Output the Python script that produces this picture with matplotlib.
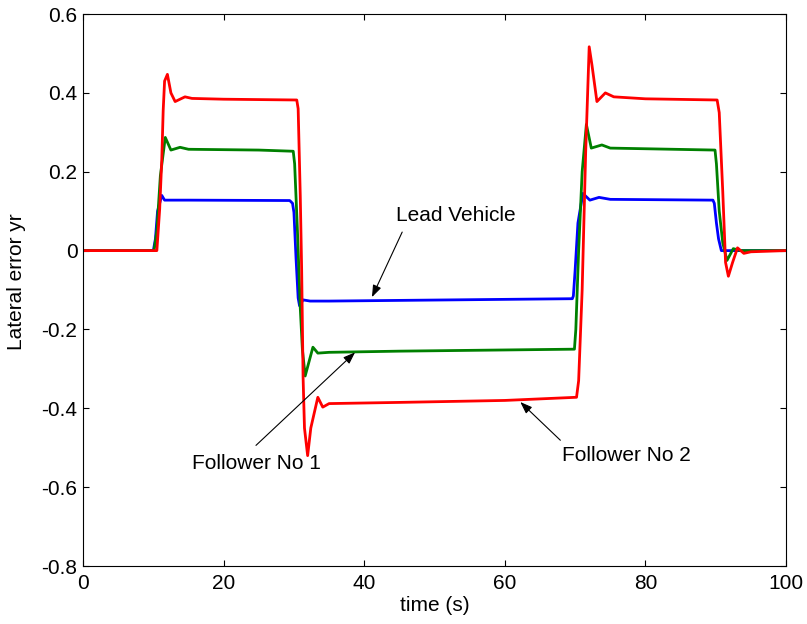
import matplotlib.pyplot as plt

plt.rcParams['font.family'] = ['Liberation Sans', 'DejaVu Sans']

# Lead vehicle (blue)
t_lead = [0, 10.0, 10.3, 10.6, 11.2, 11.6, 15, 29.4, 29.8, 30.0, 30.3, 30.6, 30.8, 31.3, 32.3, 35,
          69.6, 69.75, 70.0, 70.4, 71.1, 72.1, 73.4, 75, 89.6, 89.8, 90.1, 90.4, 90.8, 92, 100]
y_lead = [0, 0, 0.03, 0.10, 0.14, 0.128, 0.128, 0.127, 0.12, 0.097, -0.02, -0.12, -0.14, -0.125, -0.128, -0.128,
          -0.122, -0.115, -0.05, 0.07, 0.145, 0.128, 0.135, 0.13, 0.128, 0.12, 0.07, 0.03, 0.0, 0.0, 0.0]

# Follower No 1 (green)
t_f1 = [0, 10.1, 10.5, 11.0, 11.7, 12.5, 13.8, 15, 25, 29.9, 30.1, 30.5, 30.9, 31.2, 31.6, 32.7, 33.4, 35, 45,
        69.9, 70.1, 70.5, 71.0, 71.6, 72.3, 73.8, 75, 89.9, 90.1, 90.5, 91.0, 91.6, 92.5, 93.5, 100]
y_f1 = [0, 0, 0.05, 0.19, 0.287, 0.255, 0.262, 0.257, 0.255, 0.252, 0.22, 0.05, -0.145, -0.25, -0.318, -0.245, -0.26, -0.258, -0.255,
        -0.25, -0.2, 0.0, 0.2, 0.32, 0.26, 0.268, 0.26, 0.255, 0.22, 0.1, 0.02, -0.025, 0.005, 0.0, 0.0]

# Follower No 2 (red)
t_f2 = [0, 10.5, 10.9, 11.2, 11.4, 11.6, 12.0, 12.5, 13.1, 14.5, 15.5, 20, 30.4, 30.6, 30.9, 31.1, 31.3, 31.5, 31.95,
        32.4, 33.4, 34.1, 35, 45, 60, 70.2, 70.5, 71.0, 71.5, 72.0, 72.4, 73.1, 74.3, 75.5, 80,
        90.2, 90.5, 91.0, 91.4, 91.8, 92.4, 93.1, 94.0, 95, 100]
y_f2 = [0, 0, 0.105, 0.23, 0.355, 0.43, 0.447, 0.40, 0.378, 0.39, 0.386, 0.384, 0.382, 0.36, 0.14, -0.05, -0.32, -0.45, -0.52,
        -0.45, -0.372, -0.397, -0.388, -0.385, -0.38, -0.372, -0.33, -0.1, 0.25, 0.517, 0.47, 0.378, 0.40, 0.39, 0.385,
        0.382, 0.35, 0.15, -0.03, -0.065, -0.03, 0.007, -0.007, -0.003, 0]

fig = plt.figure(figsize=(8.07, 6.24), dpi=100)
ax = fig.add_axes([0.1029, 0.0929, 0.8711, 0.8846])

ax.plot(t_lead, y_lead, color=(0, 0, 1), lw=2)
ax.plot(t_f1, y_f1, color=(0, 0.5, 0), lw=2)
ax.plot(t_f2, y_f2, color=(1, 0, 0), lw=2)

ax.set_xlim(0, 100)
ax.set_ylim(-0.8, 0.6)
ax.set_xticks([0, 20, 40, 60, 80, 100])
ax.set_yticks([-0.8, -0.6, -0.4, -0.2, 0, 0.2, 0.4, 0.6])
ax.set_yticklabels(['-0.8', '-0.6', '-0.4', '-0.2', '0', '0.2', '0.4', '0.6'])
ax.tick_params(direction='in', length=4, top=True, right=True, labelsize=15)
ax.tick_params(axis='x', pad=6)
ax.tick_params(axis='y', pad=4)
ax.set_xlabel('time (s)', fontsize=15, labelpad=2)
ax.set_ylabel('Lateral error yr', fontsize=15)
ax.yaxis.set_label_coords(-0.081, 0.516)

# annotations: text and arrows
arrow = dict(arrowstyle='-|>,head_length=0.6,head_width=0.22', color='k', lw=0.8,
             mutation_scale=12, shrinkA=0, shrinkB=0)
ax.text(44.5, 0.09, 'Lead Vehicle', fontsize=15, va='center', ha='left')
ax.annotate('', xy=(41.1, -0.118), xytext=(45.4, 0.047), arrowprops=arrow)
ax.text(15.5, -0.539, 'Follower No 1', fontsize=15, va='center', ha='left')
ax.annotate('', xy=(38.7, -0.258), xytext=(24.6, -0.494), arrowprops=arrow)
ax.text(68.1, -0.519, 'Follower No 2', fontsize=15, va='center', ha='left')
ax.annotate('', xy=(62.2, -0.384), xytext=(67.9, -0.481), arrowprops=arrow)

fig.savefig('out.png', dpi=100)
